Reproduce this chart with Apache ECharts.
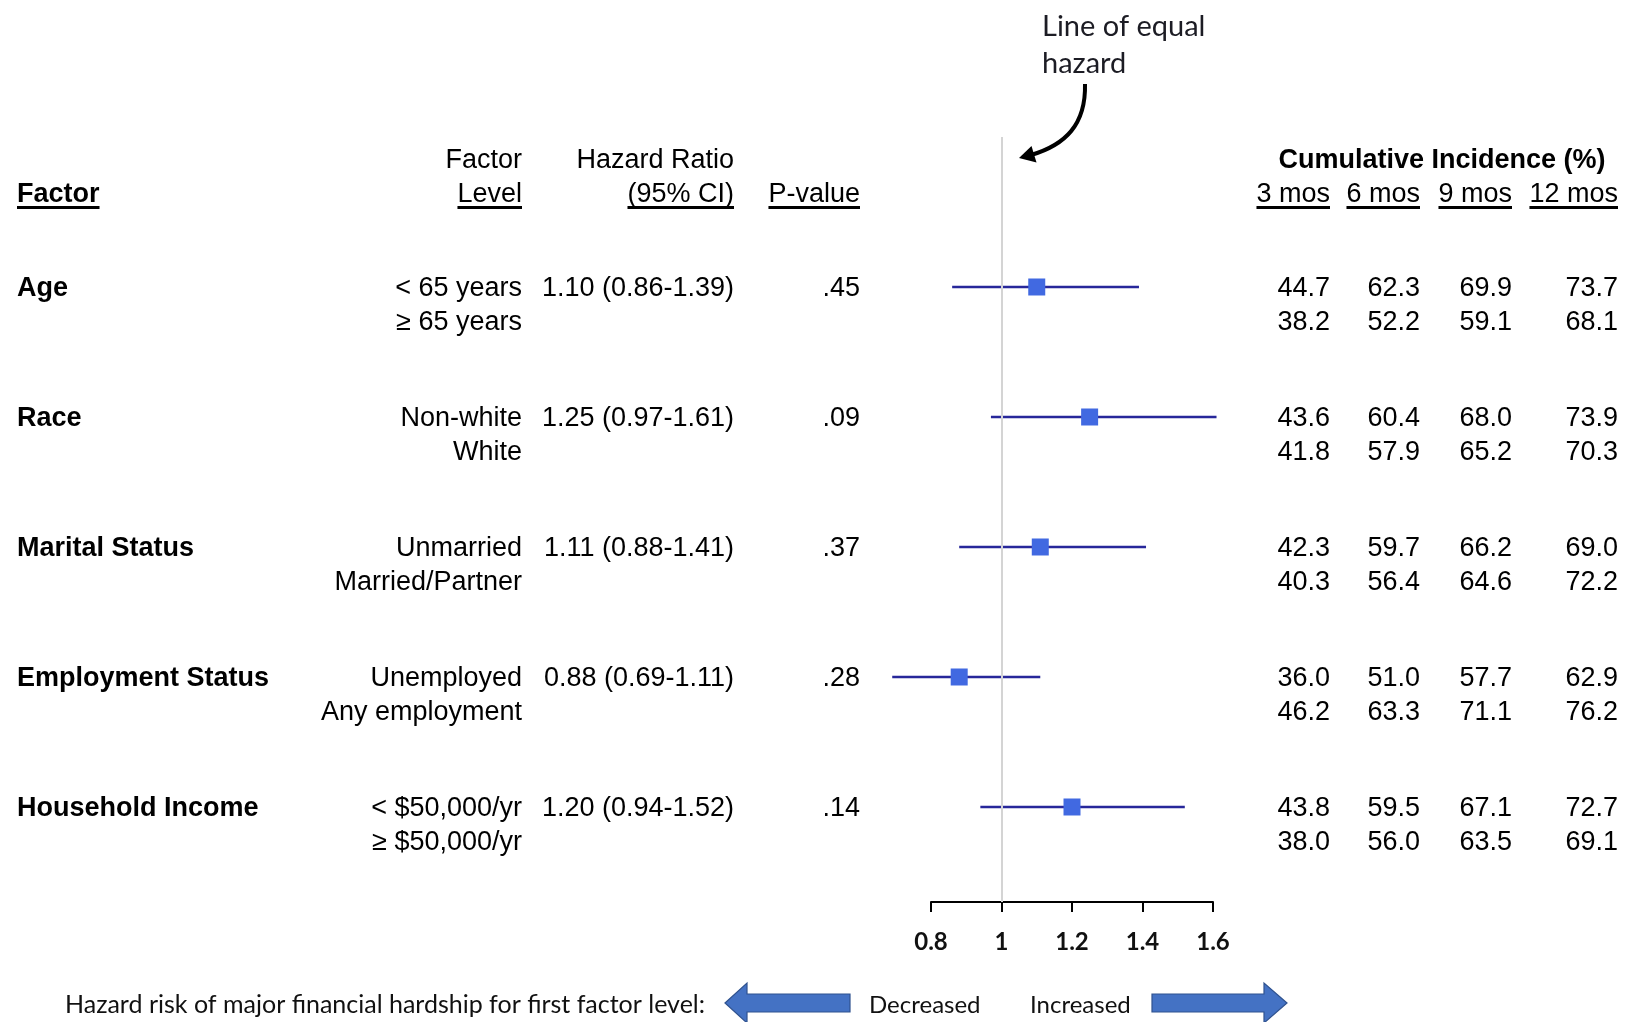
<!DOCTYPE html>
<html>
<head>
<meta charset="utf-8">
<script src="https://cdn.jsdelivr.net/npm/echarts@6/dist/echarts.min.js"></script>
<style>
html,body{margin:0;padding:0;background:#fff;}
#chart{width:1626px;height:1022px;}
</style>
</head>
<body>
<div id="chart"></div>
<script>
// ---- data ----
const factors = ['Age', 'Race', 'Marital Status', 'Employment Status', 'Household Income'];
const level1 = ['< 65 years', 'Non-white', 'Unmarried', 'Unemployed', '< $50,000/yr'];
const level2 = ['\u2265 65 years', 'White', 'Married/Partner', 'Any employment', '\u2265 $50,000/yr'];
const hazard = [1.10, 1.25, 1.11, 0.88, 1.20];
const ciLow = [0.86, 0.97, 0.88, 0.69, 0.94];
const ciHigh = [1.39, 1.61, 1.41, 1.11, 1.52];
const pValues = ['.45', '.09', '.37', '.28', '.14'];
const mos3a = [44.7, 43.6, 42.3, 36.0, 43.8];
const mos3b = [38.2, 41.8, 40.3, 46.2, 38.0];
const mos6a = [62.3, 60.4, 59.7, 51.0, 59.5];
const mos6b = [52.2, 57.9, 56.4, 63.3, 56.0];
const mos9a = [69.9, 68.0, 66.2, 57.7, 67.1];
const mos9b = [59.1, 65.2, 64.6, 71.1, 63.5];
const mos12a = [73.7, 73.9, 69.0, 62.9, 72.7];
const mos12b = [68.1, 70.3, 72.2, 76.2, 69.1];
const xTicks = [0.8, 1.0, 1.2, 1.4, 1.6];
const mosLabels = ['3 mos', '6 mos', '9 mos', '12 mos'];

// ---- layout/style ----
const TF = '"Liberation Sans", Arial, sans-serif';
const CF = 'Lato, "Open Sans", sans-serif';
const FS = 27;
const LINE2 = 34;
const TOFF = 2;
const mosRight = [1330, 1420, 1512, 1618];
const mosA = [mos3a, mos6a, mos9a, mos12a];
const mosB = [mos3b, mos6b, mos9b, mos12b];

const cvs = document.createElement('canvas').getContext('2d');
function tw(text, font) { cvs.font = font; return cvs.measureText(text).width; }

const chart = echarts.init(document.getElementById('chart'), null, {renderer: 'canvas'});

function txt(text, x, y, align, bold, extra) {
  return Object.assign({
    type: 'text', x: x, y: y,
    style: {text: text, fill: '#000', font: (bold ? 'bold ' : '') + FS + 'px ' + TF, align: align, verticalAlign: 'middle'}
  }, extra || {});
}

function underline(xRight, width, y) {
  return {type: 'rect', shape: {x: xRight - width, y: y, width: width, height: 3}, style: {fill: '#000'}};
}

const regFont = FS + 'px ' + TF;
const boldFont = 'bold ' + FS + 'px ' + TF;
const H1 = 161, H2 = 195, UL = 206;

const headerGraphics = [
  txt('Factor', 17, H2, 'left', true),
  underline(17 + tw('Factor', boldFont), tw('Factor', boldFont), UL),
  txt('Factor', 522, H1, 'right', false),
  txt('Level', 522, H2, 'right', false),
  underline(522, tw('Level', regFont), UL),
  txt('Hazard Ratio', 734, H1, 'right', false),
  txt('(95% CI)', 734, H2, 'right', false),
  underline(734, tw('(95% CI)', regFont), UL),
  txt('P-value', 860, H2, 'right', false),
  underline(860, tw('P-value', regFont), UL),
  txt('Cumulative Incidence (%)', 1442, H1, 'center', true)
];
mosLabels.forEach(function (m, k) {
  headerGraphics.push(txt(m, mosRight[k], H2, 'right', false));
  headerGraphics.push(underline(mosRight[k], tw(m, regFont), UL));
});

// annotation
headerGraphics.push({type: 'text', x: 1042, y: 27, style: {text: 'Line of equal', fill: '#1c1c24', font: '29px ' + CF, align: 'left', verticalAlign: 'middle'}});
headerGraphics.push({type: 'text', x: 1042, y: 64, style: {text: 'hazard', fill: '#1c1c24', font: '29px ' + CF, align: 'left', verticalAlign: 'middle'}});
headerGraphics.push({type: 'bezierCurve', shape: {x1: 1085, y1: 84, cpx1: 1086, cpy1: 125, cpx2: 1065, cpy2: 145, x2: 1031, y2: 155}, style: {stroke: '#000', lineWidth: 4, fill: null}});
headerGraphics.push({type: 'polygon', shape: {points: [[1019, 158], [1031.5, 146], [1036.5, 162.5]]}, style: {fill: '#000'}});

// bottom legend
headerGraphics.push({type: 'text', x: 65, y: 1005, style: {text: 'Hazard risk of major financial hardship for first factor level:', fill: '#111', font: '25px ' + CF, align: 'left', verticalAlign: 'middle'}});
headerGraphics.push({type: 'polygon', shape: {points: [[725, 1003], [747, 983], [747, 994], [850, 994], [850, 1012], [747, 1012], [747, 1023]]}, style: {fill: '#4472C4', stroke: '#2F528F', lineWidth: 1.2}});
headerGraphics.push({type: 'text', x: 869, y: 1005, style: {text: 'Decreased', fill: '#111', font: '24px ' + CF, align: 'left', verticalAlign: 'middle'}});
headerGraphics.push({type: 'text', x: 1030, y: 1005, style: {text: 'Increased', fill: '#111', font: '24px ' + CF, align: 'left', verticalAlign: 'middle'}});
headerGraphics.push({type: 'polygon', shape: {points: [[1287, 1003], [1264, 983], [1264, 994], [1152, 994], [1152, 1012], [1264, 1012], [1264, 1023]]}, style: {fill: '#4472C4', stroke: '#2F528F', lineWidth: 1.2}});

const rowIdx = factors.map(function (f, i) { return i; });

const option = {
  animation: false,
  backgroundColor: '#fff',
  grid: {left: 931, right: 413, top: 137, bottom: 120, containLabel: false},
  xAxis: {
    type: 'value', position: 'bottom', min: xTicks[0], max: xTicks[xTicks.length - 1], interval: 0.2,
    axisLine: {show: true, onZero: false, lineStyle: {color: '#000', width: 2}},
    axisTick: {show: true, length: 10, lineStyle: {color: '#000', width: 2}},
    axisLabel: {
      margin: 28, color: '#111', fontFamily: CF, fontWeight: 'bold', fontSize: 24,
      formatter: function (v) { return Math.abs(v - 1) < 1e-9 ? '1' : v.toFixed(1); }
    },
    splitLine: {show: false}
  },
  yAxis: {type: 'value', inverse: true, min: -1.1538, max: 4.7308, show: false},
  graphic: headerGraphics,
  series: [
    {
      type: 'scatter', data: [], z: 1, silent: true,
      markLine: {
        silent: true, symbol: 'none', animation: false,
        label: {show: false},
        lineStyle: {color: '#d4d4d4', width: 2, type: 'solid'},
        data: [{xAxis: 1}]
      }
    },
    {
      type: 'custom', name: 'table', z: 2, silent: true,
      data: rowIdx.map(function (i) { return [1, i]; }),
      encode: {x: 0, y: 1},
      renderItem: function (params, api) {
        const i = params.dataIndex;
        const y = api.coord([1, api.value(1)])[1] + TOFF;
        const y2 = y + LINE2;
        const children = [
          txt(factors[i], 17, y, 'left', true),
          txt(level1[i], 522, y, 'right', false),
          txt(level2[i], 522, y2, 'right', false),
          txt(hazard[i].toFixed(2) + ' (' + ciLow[i].toFixed(2) + '-' + ciHigh[i].toFixed(2) + ')', 734, y, 'right', false),
          txt(pValues[i], 860, y, 'right', false)
        ];
        for (let k = 0; k < 4; k++) {
          children.push(txt(mosA[k][i].toFixed(1), mosRight[k], y, 'right', false));
          children.push(txt(mosB[k][i].toFixed(1), mosRight[k], y2, 'right', false));
        }
        return {type: 'group', children: children};
      }
    },
    {
      type: 'custom', name: 'ci', z: 3, silent: true,
      data: rowIdx.map(function (i) { return [ciLow[i], ciHigh[i], i]; }),
      encode: {x: [0, 1], y: 2},
      renderItem: function (params, api) {
        const p1 = api.coord([api.value(0), api.value(2)]);
        const p2 = api.coord([api.value(1), api.value(2)]);
        return {type: 'line', shape: {x1: p1[0], y1: p1[1], x2: p2[0], y2: p2[1]}, style: {stroke: '#27279a', lineWidth: 2.6}};
      }
    },
    {
      type: 'scatter', name: 'hr', z: 4, silent: true,
      symbol: 'rect', symbolSize: 17,
      itemStyle: {color: '#4169E1', opacity: 1},
      data: rowIdx.map(function (i) { return [hazard[i], i]; })
    }
  ]
};
chart.setOption(option);
</script>
</body>
</html>
